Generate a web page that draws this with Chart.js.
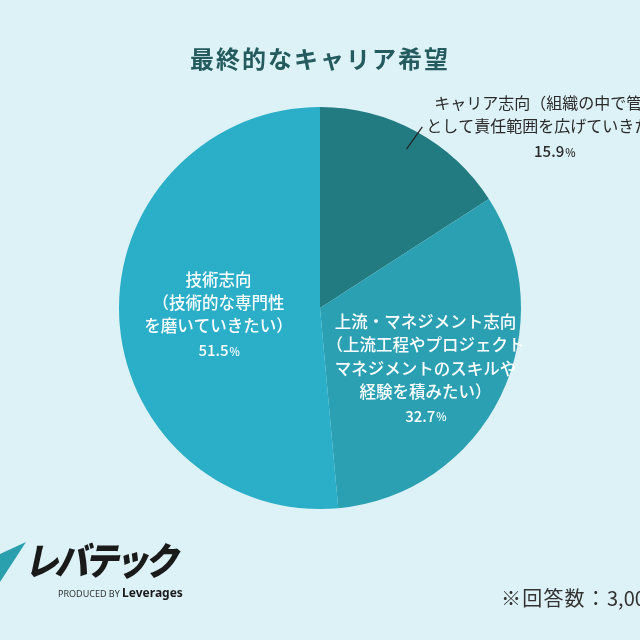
<!DOCTYPE html>
<html>
<head>
<meta charset="utf-8">
<script src="https://cdn.jsdelivr.net/npm/chart.js@4/dist/chart.umd.min.js"></script>
<style>
  html, body { margin:0; padding:0; background:#ddf2f6; }
  #wrap { position:relative; width:640px; height:640px; overflow:hidden; background:#ddf2f6; font-family:"Noto Sans CJK JP","Noto Sans",sans-serif; }
  #c { position:absolute; left:0; top:0; }
  #title { position:absolute; left:0; width:640px; top:40px; text-align:center; font-size:24px; font-weight:bold; color:#245b5e; letter-spacing:2px; }
  #note { position:absolute; left:501px; top:583px; font-size:20px; color:#333; white-space:nowrap; line-height:30px; }
  #note span { letter-spacing:1.2px; }
  #logo { position:absolute; left:32px; top:540px; font-size:34px; font-weight:900; color:#1a1a1a; transform:skewX(-12deg) scaleY(1.12); transform-origin:left top; letter-spacing:-4px; white-space:nowrap; line-height:1; }
  #prod { position:absolute; left:58px; top:584px; font-size:9px; color:#333; white-space:nowrap; font-family:"Noto Sans","DejaVu Sans",sans-serif; }
  #prod b { font-size:12px; font-weight:bold; color:#1a1a1a; }
  #tri { position:absolute; left:0; top:542px; width:26px; height:40px; background:#2a9fae; clip-path:polygon(0 30%, 100% 0, 0 100%); }
</style>
</head>
<body>
<div id="wrap">
  <canvas id="c" width="640" height="640"></canvas>
  <div id="title">最終的なキャリア希望</div>
  <div id="tri"></div>
  <div id="logo">レバテック</div>
  <div id="prod">PRODUCED BY <b>Leverages</b></div>
  <div id="note"><span>※回答数：</span>3,000</div>
</div>
<script>
const categories = [
  "キャリア志向（組織の中で管理職として責任範囲を広げていきたい）",
  "上流・マネジメント志向（上流工程やプロジェクトマネジメントのスキルや経験を積みたい）",
  "技術志向（技術的な専門性を磨いていきたい）"
];
const labelLines = [
  ["キャリア志向（組織の中で管理職", "として責任範囲を広げていきたい）"],
  ["上流・マネジメント志向", "（上流工程やプロジェクト", "マネジメントのスキルや", "経験を積みたい）"],
  ["技術志向", "（技術的な専門性", "を磨いていきたい）"]
];
const values = [15.9, 32.7, 51.5];
const colors = ["#237b82", "#2aa0b2", "#2bafc8"];

const labelPlugin = {
  id: 'sliceLabels',
  afterDatasetsDraw(chart) {
    const ctx = chart.ctx;
    const meta = chart.getDatasetMeta(0);
    ctx.save();
    const font = '"Noto Sans CJK JP","Noto Sans",sans-serif';
    const lh = 23.3;
    function pct(v, x, y, color) {
      const num = v.toFixed(1);
      ctx.font = '500 15px ' + font;
      const w1 = ctx.measureText(num).width;
      ctx.font = '500 11px ' + font;
      const w2 = ctx.measureText('%').width;
      const sx = x - (w1 + w2) / 2;
      ctx.fillStyle = color;
      ctx.textAlign = 'left';
      ctx.font = '500 15px ' + font;
      ctx.fillText(num, sx, y);
      ctx.font = '500 11px ' + font;
      ctx.fillText('%', sx + w1 + 1, y + 1);
    }
    meta.data.forEach((arc, i) => {
      const p = arc.getProps(['x','y','startAngle','endAngle','outerRadius'], true);
      const mid = (p.startAngle + p.endAngle) / 2;
      ctx.textBaseline = 'middle';
      if (i === 0) {
        const x1 = p.x + Math.cos(mid) * p.outerRadius * 0.9;
        const y1 = p.y + Math.sin(mid) * p.outerRadius * 0.9;
        const x2 = p.x + Math.cos(mid + 0.015) * p.outerRadius * 1.035;
        const y2 = p.y + Math.sin(mid + 0.015) * p.outerRadius * 1.035;
        ctx.strokeStyle = '#222';
        ctx.lineWidth = 1.2;
        ctx.beginPath(); ctx.moveTo(x1, y1); ctx.lineTo(x2, y2); ctx.stroke();
        const cx = x2 + 132, top = y2 - 24;
        ctx.fillStyle = '#2a2a2a';
        ctx.textAlign = 'center';
        ctx.font = '400 16px ' + font;
        labelLines[i].forEach((t, k) => ctx.fillText(t, cx, top + k * lh));
        pct(values[i], cx, top + labelLines[i].length * lh + 2, '#2a2a2a');
      } else {
        const f = i === 1 ? 0.55 : 0.5;
        const ax = p.x + Math.cos(mid) * p.outerRadius * f + (i === 1 ? 6 : -1);
        const ay = p.y + Math.sin(mid) * p.outerRadius * f + (i === 1 ? 12 : 2);
        const n = labelLines[i].length + 1;
        const top = ay - (n - 1) * lh / 2;
        ctx.fillStyle = '#ffffff';
        ctx.textAlign = 'center';
        ctx.font = '500 16.5px ' + font;
        labelLines[i].forEach((t, k) => ctx.fillText(t, ax, top + k * lh));
        pct(values[i], ax, top + labelLines[i].length * lh + 1, '#ffffff');
      }
    });
    ctx.restore();
  }
};

new Chart(document.getElementById('c'), {
  type: 'pie',
  data: {
    labels: categories,
    datasets: [{ data: values, backgroundColor: colors, borderWidth: 0, hoverOffset: 0 }]
  },
  options: {
    responsive: false,
    animation: false,
    layout: { padding: { top: 107, bottom: 131, left: 0, right: 0 } },
    plugins: { legend: { display: false }, tooltip: { enabled: false } },
    events: []
  },
  plugins: [labelPlugin]
});
</script>
</body>
</html>
